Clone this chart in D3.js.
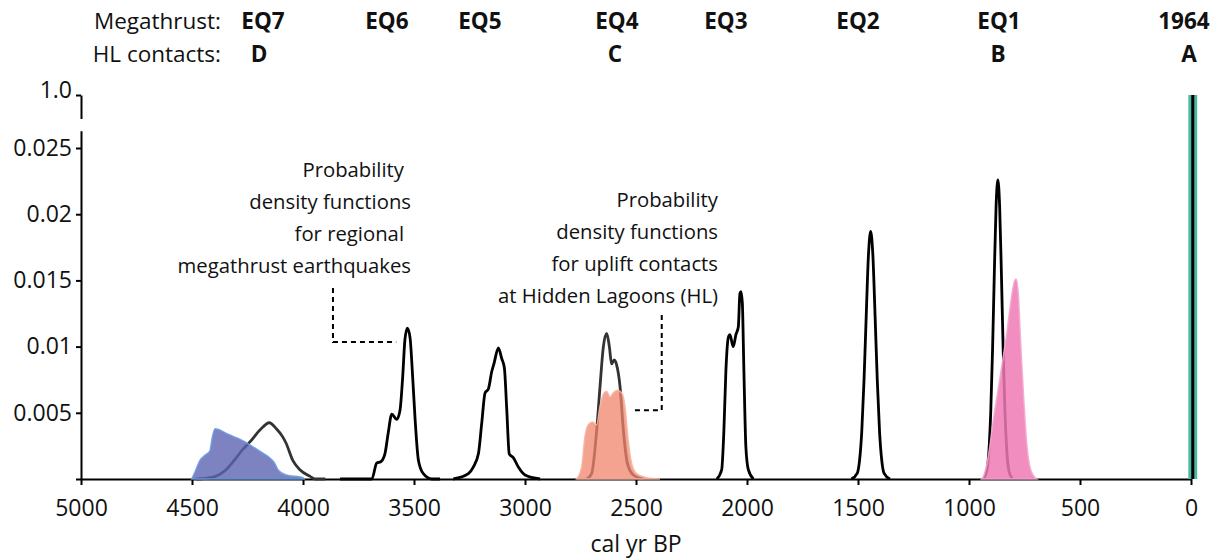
<!DOCTYPE html>
<html>
<head>
<meta charset="utf-8">
<script src="https://cdn.jsdelivr.net/npm/d3@7"></script>
<style>
  html, body { margin: 0; padding: 0; background: #fff; }
  svg { display: block; }
  text { font-family: "Open Sans", "Noto Sans", sans-serif; fill: #111; }
</style>
</head>
<body>
<svg id="chart" width="1225" height="559"></svg>
<script>
// ---------------- DATA ----------------
const xTicks = [5000, 4500, 4000, 3500, 3000, 2500, 2000, 1500, 1000, 500, 0];
const yTicks = [0, 0.005, 0.01, 0.015, 0.02, 0.025];
const yTopTicks = [1.0];

const megathrustNames = ["EQ7", "EQ6", "EQ5", "EQ4", "EQ3", "EQ2", "EQ1", "1964"];
const megathrustLabelYears = [4180, 3622, 3203, 2586, 2095, 1500, 865, 32];
const contactNames = ["D", "C", "B", "A"];
const contactLabelYears = [4198, 2595, 869, 9];

// megathrust earthquake PDFs [cal yr BP, density]
const eq7 = [[4480,0],[4405,0.00015],[4347,0.0007],[4310,0.0014],[4273,0.0022],[4239,0.0028],[4194,0.0037],[4152,0.00425],[4120,0.0038],[4092,0.0032],[4076,0.0027],[4046,0.0014],[4014,0.0007],[3968,0.0002],[3946,0],[3900,0]];
const eq6 = [[3833,0],[3690,0],[3668,0.0012],[3650,0.0013],[3631,0.0019],[3616,0.0035],[3600,0.0049],[3578,0.0045],[3563,0.0052],[3551,0.0077],[3541,0.0105],[3530,0.0114],[3518,0.0107],[3506,0.0077],[3495,0.0045],[3480,0.0014],[3458,0.0004],[3420,0],[3383,0]];
const eq5 = [[3323,0],[3255,0.0004],[3233,0.0009],[3210,0.0019],[3195,0.0042],[3180,0.0065],[3165,0.0068],[3150,0.0081],[3140,0.0087],[3120,0.0099],[3105,0.0091],[3093,0.0084],[3082,0.0052],[3071,0.0019],[3052,0.0016],[3030,0.0009],[3000,0.0003],[2932,0]];
const eq4 = [[2722,0],[2700,0.0004],[2677,0.0037],[2662,0.007],[2647,0.01],[2632,0.011],[2620,0.01],[2610,0.0087],[2598,0.009],[2587,0.0086],[2572,0.007],[2557,0.0037],[2539,0.0012],[2512,0.0003],[2467,0]];
const eq3 = [[2136,0],[2114,0.0007],[2104,0.0037],[2095,0.0082],[2084,0.0107],[2077,0.0109],[2062,0.01],[2050,0.0109],[2039,0.0115],[2032,0.014],[2027,0.01415],[2021,0.0133],[2014,0.0082],[2005,0.0024],[1994,0.0007],[1971,0]];
const eq2 = [[1530,0],[1503,0.00045],[1493,0.0014],[1483,0.0036],[1473,0.0074],[1463,0.0123],[1453,0.0169],[1443,0.0187],[1433,0.0169],[1423,0.0123],[1413,0.0074],[1403,0.0036],[1393,0.0014],[1383,0.00045],[1356,0]];
const eq1 = [[935,0],[920,0.0006],[910,0.0022],[902,0.0051],[894,0.0097],[886,0.0155],[878,0.0206],[870,0.0226],[862,0.0206],[854,0.0155],[846,0.0097],[838,0.0051],[830,0.0022],[820,0.0006],[805,0]];
const eq1964 = -8;            // 1964 event (cal yr BP), probability 1.0

// Hidden Lagoons uplift contact PDFs
const contactD = [[4501,0],[4486,0.00055],[4464,0.0014],[4441,0.0018],[4420,0.0021],[4408,0.0032],[4396,0.0038],[4340,0.0034],[4272,0.0029],[4195,0.0021],[4150,0.0016],[4128,0.0012],[4113,0.0007],[4076,0.0003],[4000,0.0001],[3995,0]];
const contactC = [[2767,0],[2745,0.0009],[2730,0.0032],[2715,0.0041],[2695,0.0043],[2677,0.0041],[2662,0.0055],[2644,0.0065],[2632,0.0066],[2617,0.0062],[2602,0.0065],[2584,0.0067],[2564,0.0065],[2550,0.0055],[2535,0.0029],[2520,0.0012],[2497,0.0004],[2452,0.0001],[2392,0]];
const contactB = [[943,0],[935,0.0002],[913,0.0017],[890,0.0045],[860,0.0077],[830,0.011],[808,0.0138],[796,0.0149],[788,0.0151],[778,0.014],[767,0.0102],[755,0.0065],[740,0.0027],[722,0.0007],[695,0]];
const contactA = [12, -28];   // year range of contact A band

const annot1 = ["Probability", "density functions", "for regional", "megathrust earthquakes"];
const annot2 = ["Probability", "density functions", "for uplift contacts", "at Hidden Lagoons (HL)"];

// ---------------- LAYOUT ----------------
const svg = d3.select("#chart");
const x = d3.scaleLinear().domain([5000, 0]).range([81, 1191]);
const y = d3.scaleLinear().domain([0, 0.0263]).range([479, 130.8]);
const yTop = d3.scaleLinear().domain([0.97, 1.0]).range([118.5, 95]);

// axes
const tickFont = "23px";
const xAxis = svg.append("g").attr("transform", `translate(0,${y(0)})`)
  .call(d3.axisBottom(x).tickValues(xTicks).tickSize(6).tickSizeOuter(0).tickFormat(d3.format("d")));
xAxis.select(".domain").attr("stroke", "#000").attr("stroke-width", 2);
xAxis.selectAll(".tick line").attr("stroke", "#000").attr("stroke-width", 2);
xAxis.selectAll(".tick text").attr("font-size", tickFont).attr("y", 19).attr("dy", "0.78em")
  .attr("font-family", "'Open Sans', sans-serif").attr("fill", "#111");

const yAxis = svg.append("g").attr("transform", `translate(${x(5000)},0)`)
  .call(d3.axisLeft(y).tickValues(yTicks).tickSize(5).tickSizeOuter(0)
    .tickFormat(d => d === 0 ? "" : d3.format("")(d)));
yAxis.select(".domain").attr("stroke", "#000").attr("stroke-width", 2);
yAxis.selectAll(".tick line").attr("stroke", "#000").attr("stroke-width", 2);
yAxis.selectAll(".tick text").attr("font-size", tickFont).attr("x", -9)
  .attr("font-family", "'Open Sans', sans-serif").attr("fill", "#111");

const yAxisTop = svg.append("g").attr("transform", `translate(${x(5000)},0)`)
  .call(d3.axisLeft(yTop).tickValues(yTopTicks).tickSize(5).tickSizeOuter(0).tickFormat(d3.format(".1f")));
yAxisTop.select(".domain").attr("stroke", "#000").attr("stroke-width", 2);
yAxisTop.selectAll(".tick line").attr("stroke", "#000").attr("stroke-width", 2);
yAxisTop.selectAll(".tick text").attr("font-size", tickFont).attr("x", -9).attr("dy", "0.1em")
  .attr("font-family", "'Open Sans', sans-serif").attr("fill", "#111");

svg.append("text").attr("x", x(2500)).attr("y", 552).attr("text-anchor", "middle")
  .attr("font-size", "23px").text("cal yr BP");

// generators
const line = d3.line().x(d => x(d[0])).y(d => y(d[1])).curve(d3.curveMonotoneX);
const area = d3.area().x(d => x(d[0])).y0(y(0)).y1(d => y(d[1])).curve(d3.curveMonotoneX);
const sorted = a => a.slice().sort((p, q) => q[0] - p[0]);

// 1964 band (contact A) + line
svg.append("rect").attr("x", x(contactA[0])).attr("width", x(contactA[1]) - x(contactA[0]))
  .attr("y", yTop(1.0)).attr("height", y(0) - yTop(1.0)).attr("fill", "#4fb9a0");
svg.append("line").attr("x1", x(eq1964)).attr("x2", x(eq1964))
  .attr("y1", yTop(1.0)).attr("y2", y(0)).attr("stroke", "#000").attr("stroke-width", 3);

// megathrust curves
const eqs = [
  {d: eq7, c: "#333"}, {d: eq6, c: "#000"}, {d: eq5, c: "#000"}, {d: eq4, c: "#333"},
  {d: eq3, c: "#000"}, {d: eq2, c: "#000"}, {d: eq1, c: "#000"}
];
eqs.forEach(e => {
  svg.append("path").attr("d", line(sorted(e.d))).attr("fill", "none")
    .attr("stroke", e.c).attr("stroke-width", 2.8).attr("stroke-linejoin", "round");
});

// contact fills (semi-transparent, above lines)
const contacts = [
  {d: contactD, fill: "rgb(92,100,178)", stroke: "#6b9be0", op: 0.8},
  {d: contactC, fill: "rgb(242,132,108)", stroke: "#f7b4a2", op: 0.75},
  {d: contactB, fill: "rgb(238,122,180)", stroke: "#f3a8cf", op: 0.85}
];
contacts.forEach(c => {
  svg.append("path").attr("d", area(sorted(c.d)))
    .attr("fill", c.fill).attr("fill-opacity", c.op)
    .attr("stroke", c.stroke).attr("stroke-width", 1.5).attr("stroke-opacity", 0.9);
});

// top labels
const topFont = "22.5px";
svg.append("text").attr("x", 221).attr("y", 29).attr("text-anchor", "end")
  .attr("font-size", topFont).text("Megathrust:");
svg.append("text").attr("x", 221).attr("y", 62).attr("text-anchor", "end")
  .attr("font-size", topFont).text("HL contacts:");
megathrustNames.forEach((n, i) => {
  svg.append("text").attr("x", x(megathrustLabelYears[i])).attr("y", 29).attr("text-anchor", "middle")
    .attr("font-size", topFont).attr("font-weight", "bold").text(n);
});
contactNames.forEach((n, i) => {
  svg.append("text").attr("x", x(contactLabelYears[i])).attr("y", 62).attr("text-anchor", "middle")
    .attr("font-size", topFont).attr("font-weight", "bold").text(n);
});

// annotations
const annFont = "20.3px";
const ann1Right = [404, 411, 404, 411];
const ann1Base = [177, 209, 241, 273];
annot1.forEach((t, i) => {
  svg.append("text").attr("x", ann1Right[i]).attr("y", ann1Base[i]).attr("text-anchor", "end")
    .attr("font-size", annFont).text(t);
});
const ann2Right = [718, 718, 718, 718];
const ann2Base = [207, 239, 271, 303];
annot2.forEach((t, i) => {
  svg.append("text").attr("x", ann2Right[i]).attr("y", ann2Base[i]).attr("text-anchor", "end")
    .attr("font-size", annFont).text(t);
});

// dashed leaders (in data units)
const leader1 = [[3865, 0.01443], [3865, 0.01035], [3580, 0.01035]];
const leader2 = [[2384, 0.01239], [2384, 0.0052], [2519, 0.0052]];
const plain = d3.line().x(d => x(d[0])).y(d => y(d[1]));
[leader1, leader2].forEach(L => {
  svg.append("path").attr("d", plain(L)).attr("fill", "none").attr("stroke", "#000")
    .attr("stroke-width", 2).attr("stroke-dasharray", "5,4");
});
</script>
</body>
</html>
